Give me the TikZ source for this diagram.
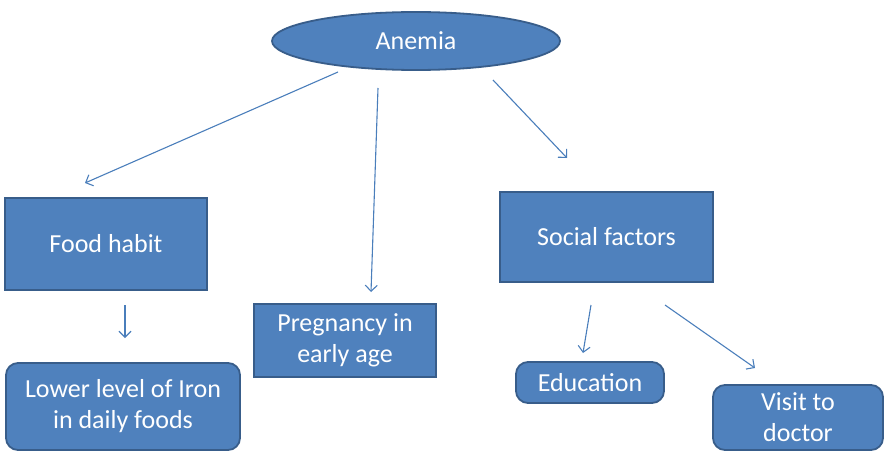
\documentclass[tikz,border=0pt]{standalone}
\usepackage{fontspec}
\setmainfont{Carlito}
\usetikzlibrary{shapes.geometric,arrows.meta}
\definecolor{boxfill}{HTML}{4F81BD}
\definecolor{boxline}{HTML}{385D8A}
\definecolor{linkcol}{HTML}{4A7EBB}
\begin{document}
\begin{tikzpicture}[x=1pt,y=-1pt,
  base/.style={fill=boxfill,draw=boxline,line width=1.8pt,text=white,
    font=\fontsize{26}{31}\selectfont,align=center,inner sep=0pt},
  sqbox/.style={base,rectangle},
  rbox/.style={base,rectangle,rounded corners=12pt},
  link/.style={draw=linkcol,line width=1.1pt,-{Straight Barb[length=6pt,width=12pt]}}]
\path[use as bounding box] (0,0) rectangle (886,452);

% nodes
\node[base,ellipse,minimum width=288pt,minimum height=58pt] (anemia) at (416,41) {Anemia};
\node[sqbox,minimum width=202pt,minimum height=92pt] (food) at (106,244) {Food habit};
\node[rbox,minimum width=234pt,minimum height=87pt] (iron) at (123,406.5) {Lower level of Iron\\in daily foods};
\node[sqbox,minimum width=182pt,minimum height=73pt] (preg) at (345,340.5) {Pregnancy in\\early age};
\node[sqbox,minimum width=213pt,minimum height=90pt] (social) at (606.5,237) {Social factors};
\node[rbox,minimum width=148pt,minimum height=41pt] (edu) at (590,382.5) {Education};
\node[rbox,minimum width=170pt,minimum height=65pt] (doctor) at (798,417.5) {Visit to\\doctor};

% free connector ends
\coordinate (a1) at (338,72);   \coordinate (f1) at (85,183);
\coordinate (a2) at (378,88);   \coordinate (p1) at (371,292);
\coordinate (a3) at (493,80);   \coordinate (s1) at (567,158);
\coordinate (f2) at (125,305);  \coordinate (i1) at (125,338);
\coordinate (s2) at (591,305);  \coordinate (e1) at (583,353);
\coordinate (s3) at (665,305);  \coordinate (d1) at (755,368);

% connectors
\draw[link] (a1) -- (f1);
\draw[link] (a2) -- (p1);
\draw[link] (a3) -- (s1);
\draw[link] (f2) -- (i1);
\draw[link] (s2) -- (e1);
\draw[link] (s3) -- (d1);
\end{tikzpicture}
\end{document}
